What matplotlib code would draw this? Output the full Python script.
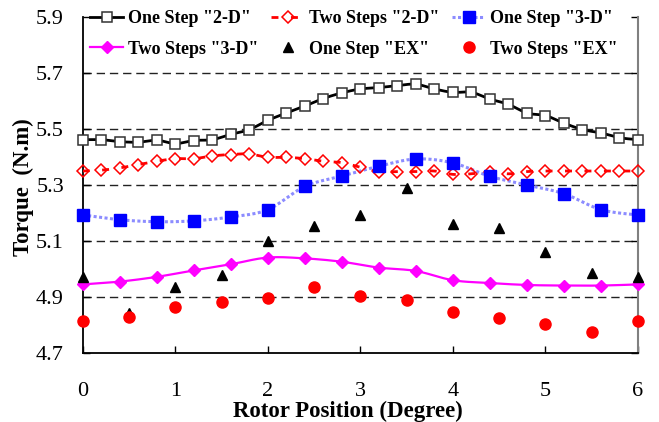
import numpy as np
import matplotlib
matplotlib.use("Agg")
import matplotlib.pyplot as plt

# Rotor positions (degrees) for each data set
pos_fine = [0.0, 0.2, 0.4, 0.6, 0.8, 1.0, 1.2, 1.4, 1.6, 1.8, 2.0, 2.2, 2.4, 2.6, 2.8,
            3.0, 3.2, 3.4, 3.6, 3.8, 4.0, 4.2, 4.4, 4.6, 4.8, 5.0, 5.2, 5.4, 5.6, 5.8, 6.0]
pos_3d = [0.0, 0.4, 0.8, 1.2, 1.6, 2.0, 2.4, 2.8, 3.2, 3.6, 4.0, 4.4, 4.8, 5.2, 5.6, 6.0]
pos_ex = [0.0, 0.5, 1.0, 1.5, 2.0, 2.5, 3.0, 3.5, 4.0, 4.5, 5.0, 5.5, 6.0]

# Torque (N.m)
one_step_2d = [5.463, 5.463, 5.456, 5.454, 5.461, 5.449, 5.460, 5.463, 5.482, 5.499,
               5.532, 5.558, 5.583, 5.610, 5.630, 5.644, 5.649, 5.656, 5.661, 5.644,
               5.632, 5.632, 5.608, 5.589, 5.558, 5.549, 5.522, 5.499, 5.487, 5.470, 5.463]
two_steps_2d = [5.351, 5.354, 5.362, 5.374, 5.386, 5.395, 5.395, 5.405, 5.410, 5.412,
                5.400, 5.400, 5.395, 5.386, 5.381, 5.364, 5.349, 5.349, 5.349, 5.351,
                5.339, 5.341, 5.349, 5.341, 5.349, 5.351, 5.351, 5.351, 5.351, 5.351, 5.351]
one_step_3d = [5.194, 5.177, 5.170, 5.173, 5.187, 5.213, 5.296, 5.333,
               5.368, 5.394, 5.380, 5.332, 5.301, 5.270, 5.213, 5.194]
two_steps_3d = [4.946, 4.956, 4.973, 4.996, 5.018, 5.042, 5.039, 5.027,
                5.006, 4.994, 4.961, 4.951, 4.944, 4.942, 4.942, 4.946]
one_step_ex = [4.971, 4.845, 4.937, 4.980, 5.102, 5.154, 5.194, 5.292,
               5.161, 5.146, 5.063, 4.987, 4.971]
two_steps_ex = [4.815, 4.830, 4.865, 4.882, 4.899, 4.937, 4.906, 4.892,
                4.846, 4.825, 4.804, 4.777, 4.815]

x_ticks = [0, 1, 2, 3, 4, 5, 6]
y_ticks = [4.7, 4.9, 5.1, 5.3, 5.5, 5.7, 5.9]
grid_levels = [4.9, 5.1, 5.3, 5.5, 5.7]

SERIF = ["Liberation Serif", "DejaVu Serif"]


def smooth(xs, ys, n=12):
    """Catmull-Rom path through the given points (smoothed line drawing)."""
    xs = np.asarray(xs, float)
    ys = np.asarray(ys, float)
    px = np.concatenate([[xs[0]], xs, [xs[-1]]])
    py = np.concatenate([[ys[0]], ys, [ys[-1]]])
    outx, outy = [xs[0]], [ys[0]]
    t = np.linspace(0, 1, n + 1)[1:]
    for i in range(1, len(px) - 2):
        p0x, p1x, p2x, p3x = px[i - 1], px[i], px[i + 1], px[i + 2]
        p0y, p1y, p2y, p3y = py[i - 1], py[i], py[i + 1], py[i + 2]
        for arr, a, b, c, d in ((outx, p0x, p1x, p2x, p3x), (outy, p0y, p1y, p2y, p3y)):
            arr.extend(0.5 * ((2 * b) + (-a + c) * t + (2 * a - 5 * b + 4 * c - d) * t ** 2
                              + (-a + 3 * b - 3 * c + d) * t ** 3))
    return np.array(outx), np.array(outy)


fig = plt.figure(figsize=(6.59, 4.22), dpi=100)
ax = fig.add_axes([0.1255, 0.1628, 0.9681 - 0.1255, 0.959 - 0.1628])

ax.hlines(grid_levels, 0, 6, colors="#222222", linestyles=(0, (6, 3.5)),
          linewidth=1.0, zorder=1)

# One Step "2-D"
sx, sy = smooth(pos_fine, one_step_2d)
ax.plot(sx, sy, color="black", lw=2.0, zorder=3)
ax.plot(pos_fine, one_step_2d, ls="none", marker="s", ms=7.5, mfc="white",
        mec="#333333", mew=1.1, zorder=4, clip_on=False)
h1, = ax.plot([], [], color="black", lw=2.0, marker="s", ms=7.5, mfc="white",
              mec="#333333", mew=1.1)

# Two Steps "2-D"
sx, sy = smooth(pos_fine, two_steps_2d)
ax.plot(sx, sy, color="red", lw=2.0, ls=(0, (2.5, 4.5)), zorder=3)
ax.plot(pos_fine, two_steps_2d, ls="none", marker="D", ms=6.3, mfc="none",
        mec="red", mew=1.1, zorder=4, clip_on=False)
h2, = ax.plot([], [], color="red", lw=2.0, ls=(0, (2.5, 4.5)), marker="D", ms=6.3,
              mfc="none", mec="red", mew=1.1)

# One Step "3-D"
sx, sy = smooth(pos_3d, one_step_3d)
ax.plot(sx, sy, color="#8c8cff", lw=2.2, ls=(0, (1, 0.8)), zorder=3)
ax.plot(pos_3d, one_step_3d, ls="none", marker="s", ms=8, mfc="#0000ff",
        mec="#0000ff", zorder=4, clip_on=False)
h3, = ax.plot([], [], color="#8c8cff", lw=2.2, ls=(0, (1, 0.8)), marker="s", ms=8,
              mfc="#0000ff", mec="#0000ff")

# Two Steps "3-D"
sx, sy = smooth(pos_3d, two_steps_3d)
ax.plot(sx, sy, color="#ff00ff", lw=1.6, zorder=3)
ax.plot(pos_3d, two_steps_3d, ls="none", marker="D", ms=6.5, mfc="#ff00ff",
        mec="#ff00ff", zorder=4, clip_on=False)
h4, = ax.plot([], [], color="#ff00ff", lw=1.6, marker="D", ms=6.5, mfc="#ff00ff",
              mec="#ff00ff")

# Measurements
h5, = ax.plot(pos_ex, one_step_ex, ls="none", marker="^", ms=7.5, color="black",
              zorder=5, clip_on=False)
h6, = ax.plot(pos_ex, two_steps_ex, ls="none", marker="o", ms=8, color="red",
              mec="red", zorder=6, clip_on=False)

ax.set_xlim(0, 6)
ax.set_ylim(4.7, 5.9)
ax.set_xticks(x_ticks)
ax.set_yticks(y_ticks)
ax.set_xticklabels([str(v) for v in x_ticks], family=SERIF, fontsize=16)
ax.set_yticklabels([f"{v:.1f}" for v in y_ticks], family=SERIF, fontsize=16)
ax.tick_params(axis="x", direction="in", length=5, width=1, pad=21, top=False)
ax.tick_params(axis="y", direction="in", length=5, width=1, pad=13.5, right=True)

ax.spines["top"].set_visible(False)
ax.spines["right"].set_color("#808080")
ax.spines["right"].set_linewidth(1.5)
for s in ("left", "bottom"):
    ax.spines[s].set_linewidth(1.3)

fig.text(348 / 659, 1 - 411 / 422, "Rotor Position (Degree)", family=SERIF,
         fontweight="bold", fontsize=16.5, ha="center", va="center")
fig.text(23 / 659, 1 - 187 / 422, "Torque  (N.m)", family=SERIF,
         fontweight="bold", fontsize=16.5, ha="center", va="center", rotation=90)

labels = ['One Step "2-D"', 'Two Steps "3-D"', 'Two Steps "2-D"',
          'One Step "EX"', 'One Step "3-D"', 'Two Steps "EX"']
handles = [h1, h4, h2, h5, h3, h6]
leg = fig.legend(handles, labels, ncol=3, loc="upper left",
                 bbox_to_anchor=(90 / 659, 1 - 10 / 422), frameon=False,
                 prop={"family": SERIF, "weight": "bold", "size": 13},
                 borderpad=0, borderaxespad=0, handlelength=1.83, handletextpad=0.28,
                 columnspacing=0.7, labelspacing=0.75, numpoints=1)

fig.savefig("out.png", dpi=100)
